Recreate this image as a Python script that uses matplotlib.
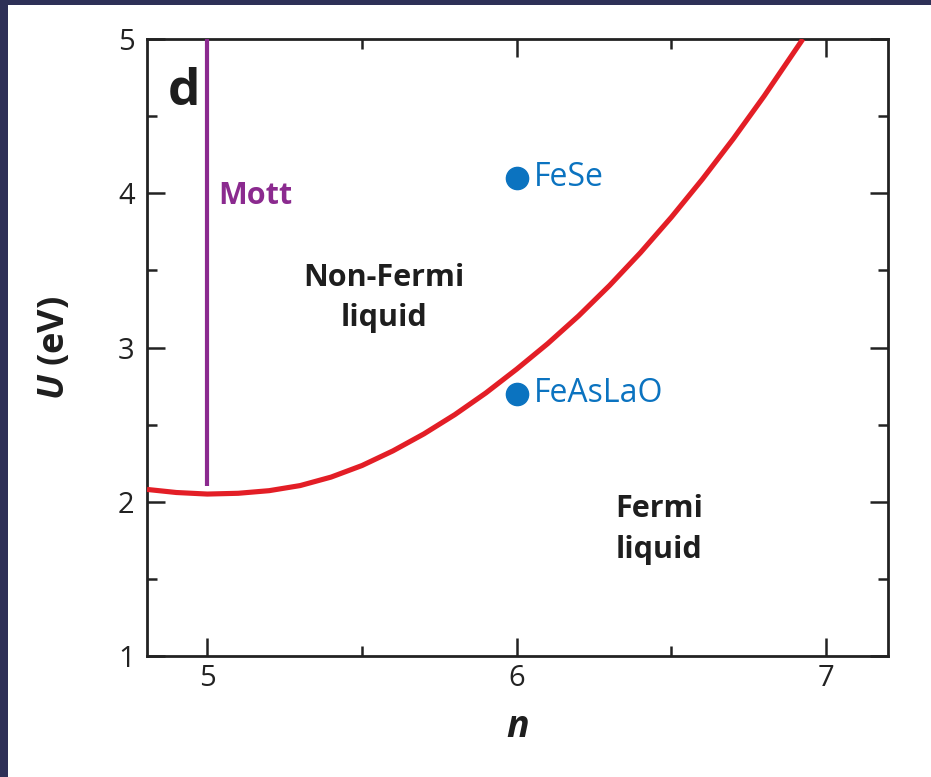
import matplotlib
matplotlib.use("Agg")
import matplotlib.pyplot as plt
from matplotlib.patches import Rectangle
from matplotlib.ticker import MultipleLocator

# Crossover line between the Fermi-liquid and non-Fermi-liquid regimes
n_curve = [4.805, 4.9, 5.0, 5.1, 5.2, 5.3, 5.4, 5.5, 5.6, 5.7, 5.8, 5.9,
           6.0, 6.1, 6.2, 6.3, 6.4, 6.5, 6.6, 6.7, 6.8, 6.925]
U_curve = [2.08, 2.06, 2.05, 2.055, 2.072, 2.105, 2.16, 2.235, 2.33, 2.44,
           2.565, 2.705, 2.86, 3.025, 3.205, 3.402, 3.615, 3.845, 4.091,
           4.353, 4.631, 5.0]

# Mott line at half filling
mott_n = [5.0, 5.0]
mott_U = [2.1, 5.0]

# Materials
materials = ["FeSe", "FeAsLaO"]
mat_n = [6.0, 6.0]
mat_U = [4.1, 2.7]

RED = "#e31e26"
PURPLE = "#8b2a8f"
BLUE = "#0b73c0"
NAVY = "#2e3057"
INK = "#1e1e1e"

plt.rcParams["font.family"] = ["Open Sans", "DejaVu Sans"]
plt.rcParams["mathtext.fontset"] = "custom"
plt.rcParams["mathtext.it"] = "Open Sans:italic:bold"

fig = plt.figure(figsize=(9.31, 7.77), dpi=100, facecolor="white")
# dark frame on the left and top edges
fig.patches.append(Rectangle((0, 0), 8 / 931, 1, transform=fig.transFigure,
                             facecolor=NAVY, edgecolor="none", zorder=0))
fig.patches.append(Rectangle((0, 1 - 5 / 777), 1, 5 / 777, transform=fig.transFigure,
                             facecolor=NAVY, edgecolor="none", zorder=0))

ax = fig.add_axes([0.1579, 0.1557, 0.7959, 0.7941])

ax.plot(n_curve, U_curve, color=RED, lw=3.7, solid_capstyle="butt",
        solid_joinstyle="round", zorder=3)
ax.plot(mott_n, mott_U, color=PURPLE, lw=3.0, solid_capstyle="butt", zorder=3)
ax.plot(mat_n, mat_U, "o", color=BLUE, markersize=16, zorder=4)

for name, x, y in zip(materials, mat_n, mat_U):
    ax.annotate(name, (x, y), xytext=(12, 0), textcoords="offset points",
                ha="left", va="center", color=BLUE, fontsize=23)

ax.text(4.925, 4.57, "d", fontsize=37, fontweight="bold", ha="center",
        va="baseline", color=INK)
ax.text(5.036, 3.98, "Mott", fontsize=22, fontweight="bold", color=PURPLE,
        ha="left", va="center")
ax.text(5.57, 3.32, "Non-Fermi\nliquid", fontsize=22, fontweight="bold",
        ha="center", va="center", linespacing=1.45, color=INK)
ax.text(6.46, 1.82, "Fermi\nliquid", fontsize=22, fontweight="bold",
        ha="center", va="center", linespacing=1.45, color=INK)

ax.set_xlim(4.805, 7.2)
ax.set_ylim(1, 5)
ax.xaxis.set_major_locator(MultipleLocator(1))
ax.xaxis.set_minor_locator(MultipleLocator(0.5))
ax.yaxis.set_major_locator(MultipleLocator(1))
ax.yaxis.set_minor_locator(MultipleLocator(0.5))

ax.tick_params(which="both", direction="in", top=True, right=True,
               width=1.8, color="#222222", labelsize=21, labelcolor="#222222")
ax.tick_params(which="major", length=13)
ax.tick_params(which="minor", length=7)
ax.tick_params(axis="x", pad=6)
ax.tick_params(axis="y", pad=9)
for s in ax.spines.values():
    s.set_linewidth(2.0)
    s.set_color("#222222")

ax.set_xlabel("n", fontsize=27, fontweight="bold", style="italic", color=INK)
ax.set_ylabel("$U$ (eV)", fontsize=26, fontweight="bold", color=INK)
ax.xaxis.set_label_coords(0.5, -0.115)
ax.yaxis.set_label_coords(-0.124, 0.5)
ax.xaxis.label.set_va("center")
ax.yaxis.label.set_va("center")

fig.savefig("out.png", dpi=100, facecolor=fig.get_facecolor())
